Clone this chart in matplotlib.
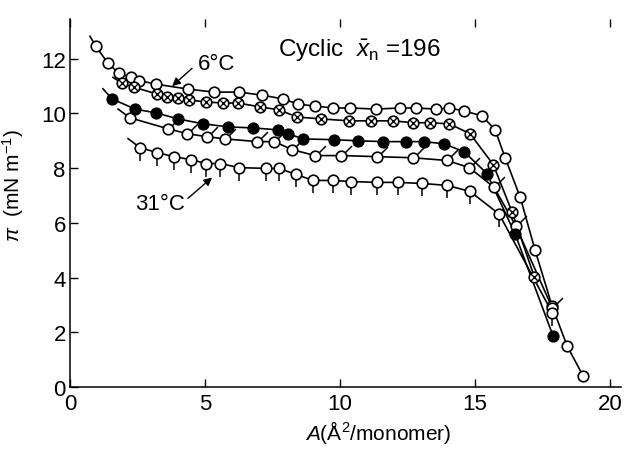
import numpy as np
import matplotlib
matplotlib.use("Agg")
import matplotlib.pyplot as plt
from matplotlib.path import Path

plt.rcParams['font.family'] = ['Liberation Sans', 'DejaVu Sans']
plt.rcParams['mathtext.fontset'] = 'custom'
plt.rcParams['mathtext.rm'] = 'Liberation Sans'
plt.rcParams['mathtext.it'] = 'Liberation Sans:italic'

# 6 C curve (open circles), first value is the lead-in of the drawn curve
a1 = [0.74, 0.96, 1.41, 1.81, 2.26, 2.56, 3.19, 4.37, 5.33, 6.26, 7.11, 7.89, 8.44, 9.07,
      9.74, 10.37, 11.33, 12.22, 12.8, 13.55, 14.04, 14.6, 15.26, 15.74, 16.11, 16.67,
      17.22, 17.85, 18.41, 19.0]
p1 = [12.82, 12.45, 11.83, 11.47, 11.32, 11.2, 11.07, 10.89, 10.78, 10.78, 10.67, 10.53,
      10.34, 10.27, 10.2, 10.2, 10.16, 10.2, 10.2, 10.16, 10.2, 10.09, 9.91, 9.4, 8.38,
      6.93, 5.0, 2.95, 1.49, 0.4]

# crossed circles
a2 = [1.59, 1.93, 2.37, 3.22, 3.59, 4.0, 4.41, 5.04, 5.67, 6.22, 7.04, 7.74, 8.41, 9.3,
      10.33, 11.15, 11.96, 12.7, 13.33, 14.04, 14.81, 15.67, 16.37, 17.19]
p2 = [11.32, 11.1, 10.96, 10.71, 10.6, 10.57, 10.49, 10.42, 10.38, 10.38, 10.24, 10.13,
      9.87, 9.8, 9.73, 9.73, 9.73, 9.66, 9.66, 9.62, 9.26, 8.13, 6.39, 4.03]

# filled circles
a3 = [1.22, 1.56, 2.41, 3.19, 4.0, 4.93, 5.85, 6.78, 7.7, 8.07, 8.63, 9.78, 10.67, 11.59,
      12.44, 13.11, 13.85, 14.59, 15.44, 16.48, 17.89]
p3 = [10.9, 10.53, 10.16, 10.02, 9.8, 9.62, 9.51, 9.47, 9.4, 9.26, 9.07, 9.04, 9.0, 8.97,
      8.97, 8.97, 8.89, 8.6, 7.8, 5.59, 1.85]

# open circles with flag
a4 = [1.78, 2.22, 3.63, 4.33, 5.07, 5.74, 6.93, 7.56, 8.22, 9.07, 10.04, 11.37, 12.7,
      13.96, 14.78, 15.7, 16.5, 17.85]
p4 = [10.16, 9.84, 9.44, 9.26, 9.15, 9.07, 8.97, 8.97, 8.68, 8.46, 8.46, 8.42, 8.38,
      8.28, 8.02, 7.3, 5.9, 2.9]

# 31 C curve (open circles with tail)
a5 = [2.15, 2.59, 3.22, 3.85, 4.48, 5.04, 5.56, 6.26, 7.26, 7.74, 8.37, 9.0, 9.74, 10.41,
      11.37, 12.15, 13.04, 13.96, 14.81, 15.89, 17.85]
p5 = [9.08, 8.75, 8.57, 8.42, 8.31, 8.17, 8.17, 8.02, 7.99, 7.99, 7.77, 7.55, 7.55, 7.51,
      7.48, 7.48, 7.44, 7.37, 7.15, 6.32, 2.72]

fig = plt.figure(figsize=(6.29, 4.52), dpi=100)
ax = fig.add_axes([0.1113, 0.1416, 0.876, 0.814])

lw = 1.2
ms = 7.6
flag = Path([(0.35, 0.35), (1.0, 1.0)], [Path.MOVETO, Path.LINETO])
tail = Path([(0.0, -0.42), (0.0, -1.0)], [Path.MOVETO, Path.LINETO])

for a, p in [(a1, p1), (a2, p2), (a3, p3), (a4, p4), (a5, p5)]:
    ax.plot(a, p, '-', color='black', lw=lw, zorder=2)

ax.plot(a4[1:], p4[1:], ls='none', marker=flag, ms=15, mew=1.1, color='black', zorder=3)
ax.plot(a5[1:], p5[1:], ls='none', marker=tail, ms=18, mew=1.1, color='black', zorder=3)

ax.plot(a1[1:], p1[1:], 'o', ms=ms, mfc='white', mec='black', mew=lw, zorder=4)
ax.plot(a4[1:], p4[1:], 'o', ms=ms, mfc='white', mec='black', mew=lw, zorder=4)
ax.plot(a5[1:], p5[1:], 'o', ms=ms, mfc='white', mec='black', mew=lw, zorder=4)
ax.plot(a2[1:], p2[1:], 'o', ms=ms, mfc='white', mec='black', mew=lw, zorder=4)
ax.plot(a2[1:], p2[1:], 'x', ms=5.2, mec='black', mew=1.0, zorder=5)
ax.plot(a3[1:], p3[1:], 'o', ms=ms, mfc='black', mec='black', mew=lw, zorder=4)

ax.text(5.44, 11.83, '6°C', fontsize=16, ha='center', va='center')
ax.annotate('', xy=(3.78, 11.0), xytext=(4.52, 11.65),
            arrowprops=dict(arrowstyle='-|>', color='black', lw=1.0, mutation_scale=12,
                            shrinkA=0, shrinkB=0))
ax.text(3.33, 6.72, '31°C', fontsize=16, ha='center', va='center')
ax.annotate('', xy=(5.26, 7.66), xytext=(4.37, 6.9),
            arrowprops=dict(arrowstyle='-|>', color='black', lw=1.0, mutation_scale=12,
                            shrinkA=0, shrinkB=0))
ax.text(10.7, 12.34, r'Cyclic  $\bar{x}_{\rm n}$ =196', fontsize=17.5, ha='center', va='center')

ax.set_xlim(0, 20.4)
ax.set_ylim(0, 13.45)
ax.set_xticks([0, 5, 10, 15, 20])
ax.set_yticks([0, 2, 4, 6, 8, 10, 12])
ax.tick_params(direction='in', length=6, width=1.0, labelsize=16, top=True)
ax.tick_params(axis='x', pad=4)
ax.tick_params(axis='y', pad=3)
for s in ['top', 'right']:
    ax.spines[s].set_visible(False)
for s in ['left', 'bottom']:
    ax.spines[s].set_linewidth(1.1)

ax.set_xlabel(r'$A$(Å$^2$/monomer)', fontsize=15)
ax.xaxis.set_label_coords(0.56, -0.085)
ax.set_ylabel(r'$\pi$  (mN m$^{-1}$)', fontsize=15)
ax.yaxis.set_label_coords(-0.08, 0.55)

fig.savefig('out.png', dpi=100)
